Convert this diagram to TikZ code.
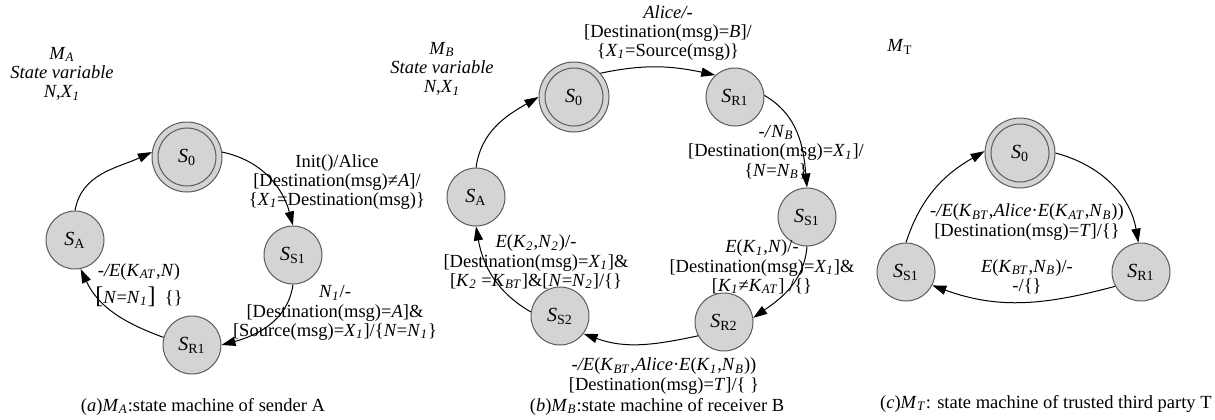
\documentclass[tikz,border=0pt]{standalone}
\usepackage{fontspec}
\setmainfont{Liberation Serif}
\usepackage{tikz}
\usetikzlibrary{arrows.meta}
\usepackage{xcolor}
\definecolor{StateFill}{RGB}{212,212,212}
\definecolor{StateLine}{RGB}{90,90,90}
\newcommand{\labfont}{\fontsize{9.25pt}{9.6pt}\selectfont}
\newcommand{\stlab}[1]{\textit{S}\textsubscript{#1}}
\newcommand{\vsub}[2]{\textit{#1}\textsubscript{\textit{#2}}}
\tikzset{
  snode/.style={circle,draw=StateLine,fill=StateFill,line width=0.5pt,
                minimum size=29pt,inner sep=0pt,font=\fontsize{10pt}{10pt}\selectfont},
  sinit/.style={snode,minimum size=35pt,
                path picture={\draw[StateLine,line width=0.5pt]
                  (path picture bounding box.center) circle (14.5pt);}},
  sedge/.style={-{Triangle[length=7pt,width=4.6pt]},line width=0.5pt},
  slab/.style={align=center,font=\labfont,inner sep=0pt},
}

\begin{document}
\begin{tikzpicture}[x=0.5pt,y=0.5pt]
  \useasboundingbox (0,0) rectangle (1215,419);
  % (a) sender A
  \node[slab] (titleA) at (62,345) {\vsub{M}{A}\\\textit{State variable}\\\textit{N},\vsub{X}{1}};
  \node[sinit] (a0) at (187,262) {\stlab{0}};
  \node[snode] (aS1) at (293,164) {\stlab{S1}};
  \node[snode] (aR1) at (192,74) {\stlab{R1}};
  \node[snode] (aA) at (75,179) {\stlab{A}};
  \draw[sedge] (aA.90) to[out=80,in=205] (a0.172);
  \draw[sedge] (a0.8) to[out=-12,in=105] (aS1.90);
  \draw[sedge] (aS1.270) to[out=262,in=15] (aR1.0);
  \draw[sedge] (aR1.165) to[out=160,in=295] (aA.281);
  \node[slab] (labInit) at (337,237) {Init()/Alice\\{[}Destination(msg)≠\textit{A}]/\\\{\vsub{X}{1}=Destination(msg)\}};
  \node[slab] (labKat) at (139,134) {\textit{-/E}(\vsub{K}{AT},\textit{N})\\[2.4pt]{\large[}\textit{N}=\vsub{N}{1}{\large]}~~\{\}};
  \node[slab] (labNa) at (335,106) {\vsub{N}{1}/-\\{[}Destination(msg)=\textit{A}]\&\\{[}Source(msg)=\vsub{X}{1}]/\{\textit{N}=\vsub{N}{1}\}};
  \node[slab] (capA) at (203,12) {(\textit{a})\vsub{M}{A}:state machine of sender A};
  % (b) receiver B
  \node[slab] (titleB) at (442,350) {\vsub{M}{B}\\\textit{State variable}\\\textit{N},\vsub{X}{1}};
  \node[sinit] (b0) at (574,322) {\stlab{0}};
  \node[snode] (bR1) at (735,322) {\stlab{R1}};
  \node[snode] (bS1) at (807,202) {\stlab{S1}};
  \node[snode] (bR2) at (724,97) {\stlab{R2}};
  \node[snode] (bS2) at (560,103) {\stlab{S2}};
  \node[snode] (bA) at (476,222) {\stlab{A}};
  \draw[sedge] (bA.90) to[out=82,in=210] (b0.180);
  \draw[sedge] (b0.42) to[out=12,in=168] (bR1.132);
  \draw[sedge] (bR1.3) to[out=-30,in=95] (bS1.90);
  \draw[sedge] (bS1.270) to[out=265,in=35] (bR2.8);
  \draw[sedge] (bR2.208) to[out=192,in=340] (bS2.323);
  \draw[sedge] (bS2.172) to[out=150,in=280] (bA.270);
  \node[slab] (labAlice) at (668,386) {\textit{Alice/-}\\{[}Destination(msg)=\textit{B}]/\\\{\vsub{X}{1}=Source(msg)\}};
  \node[slab] (labNb) at (776,267) {\textit{-/}\vsub{N}{B}\\{[}Destination(msg)=\vsub{X}{1}]/\\\{\textit{N}=\vsub{N}{B}\}};
  \node[slab] (labKa) at (762,152) {\textit{E}(\vsub{K}{1},\textit{N})/-\\{[}Destination(msg)=\vsub{X}{1}]\&\\{[}\vsub{K}{1}≠\vsub{K}{AT}] /\{\}};
  \node[slab] (labKbt) at (664,43) {\textit{-/E}(\vsub{K}{BT},\textit{Alice}·\textit{E}(\vsub{K}{1},\vsub{N}{B}))\\{[}Destination(msg)=\textit{T}]/\{ \}};
  \node[slab] (labKb) at (536,157) {\textit{E}(\vsub{K}{2},\vsub{N}{2})/-\\{[}Destination(msg)=\vsub{X}{1}]\&\\{[}\vsub{K}{2} =\vsub{K}{BT}]\&[\textit{N}=\vsub{N}{2}]/\{\}};
  \node[slab] (capB) at (657,12) {(\textit{b})\vsub{M}{B}:state machine of receiver B};
  % (c) trusted third party T
  \node[slab] (titleT) at (900,372) {\textit{M}\textsubscript{T}};
  \node[sinit] (c0) at (1020,266) {\stlab{0}};
  \node[snode] (cR1) at (1141,147) {\stlab{R1}};
  \node[snode] (cS1) at (906,147) {\stlab{S1}};
  \draw[sedge] (c0.0) to[out=-15,in=100] (cR1.95);
  \draw[sedge] (cR1.209) to[out=195,in=340] (cS1.333);
  \draw[sedge] (cS1.90) to[out=72,in=210] (c0.177);
  \node[slab] (labKt) at (1027,197) {\textit{-/E}(\vsub{K}{BT},\textit{Alice}·\textit{E}(\vsub{K}{AT},\vsub{N}{B}))\\{[}Destination(msg)=\textit{T}]/\{\}};
  \node[slab] (labNt) at (1027,142) {\textit{E}(\vsub{K}{BT},\vsub{N}{B})/-\\-/\{\}};
  \node[slab,anchor=east] (capC) at (1212,15) {(\textit{c})\vsub{M}{T}: state machine of trusted third party~T};
\end{tikzpicture}
\end{document}
